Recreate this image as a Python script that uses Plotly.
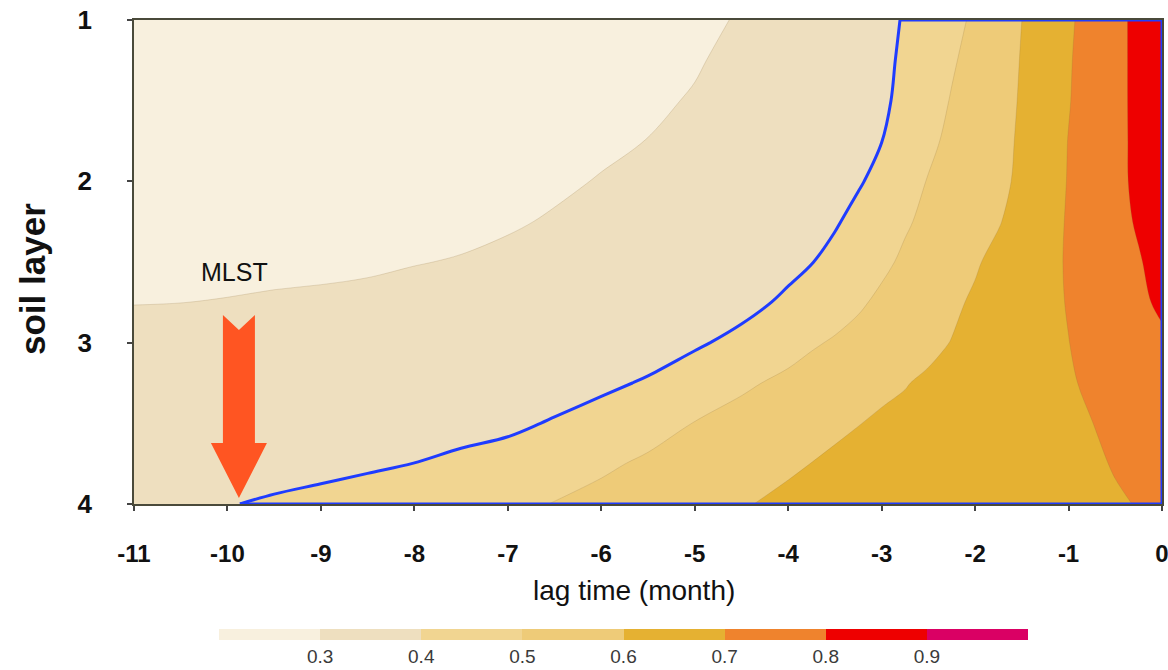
import numpy as np
import plotly.graph_objects as go

# ---------------- data ----------------
lag_months = [-11, -10.5, -10, -9.5, -9, -8.5, -8, -7.5, -7, -6.5, -6, -5.5, -5, -4.5, -4,
              -3.75, -3.5, -3.25, -3, -2.75, -2.5, -2.25, -2, -1.75, -1.5, -1.25, -1,
              -0.75, -0.5, -0.25, 0]
soil_layers = [1, 1.25, 1.5, 1.75, 2, 2.25, 2.5, 2.75, 3, 3.25, 3.5, 3.75, 4]

corr_100 = [0.200, 0.200, 0.200, 0.200, 0.200, 0.200, 0.205, 0.217, 0.229, 0.240, 0.253, 0.270, 0.286, 0.305, 0.333, 0.347,
            0.361, 0.375, 0.389, 0.403, 0.442, 0.476, 0.514, 0.557, 0.600, 0.644, 0.688, 0.732, 0.777, 0.821, 0.866]
corr_125 = [0.202, 0.203, 0.205, 0.208, 0.210, 0.213, 0.220, 0.229, 0.241, 0.253, 0.265, 0.279, 0.294, 0.318, 0.343, 0.356,
            0.368, 0.381, 0.393, 0.405, 0.453, 0.491, 0.528, 0.566, 0.604, 0.648, 0.693, 0.736, 0.778, 0.820, 0.863]
corr_150 = [0.219, 0.219, 0.222, 0.224, 0.226, 0.229, 0.236, 0.242, 0.254, 0.265, 0.277, 0.289, 0.305, 0.330, 0.353, 0.364,
            0.375, 0.387, 0.396, 0.406, 0.465, 0.505, 0.539, 0.572, 0.607, 0.652, 0.696, 0.738, 0.779, 0.819, 0.860]
corr_175 = [0.235, 0.235, 0.238, 0.240, 0.242, 0.245, 0.251, 0.257, 0.266, 0.278, 0.290, 0.301, 0.320, 0.343, 0.363, 0.373,
            0.383, 0.392, 0.3996, 0.441, 0.483, 0.518, 0.548, 0.577, 0.611, 0.656, 0.702, 0.740, 0.779, 0.818, 0.858]
corr_200 = [0.251, 0.251, 0.254, 0.256, 0.258, 0.261, 0.267, 0.272, 0.280, 0.291, 0.303, 0.318, 0.336, 0.355, 0.373, 0.382,
            0.391, 0.398, 0.406, 0.468, 0.504, 0.530, 0.556, 0.582, 0.615, 0.660, 0.704, 0.742, 0.779, 0.817, 0.855]
corr_225 = [0.267, 0.268, 0.270, 0.272, 0.274, 0.277, 0.282, 0.287, 0.294, 0.305, 0.321, 0.335, 0.351, 0.368, 0.384, 0.391,
            0.398, 0.406, 0.455, 0.491, 0.518, 0.544, 0.569, 0.595, 0.631, 0.669, 0.707, 0.741, 0.774, 0.809, 0.845]
corr_250 = [0.283, 0.284, 0.286, 0.289, 0.291, 0.293, 0.298, 0.303, 0.312, 0.324, 0.339, 0.352, 0.366, 0.380, 0.394, 0.399,
            0.406, 0.456, 0.484, 0.513, 0.538, 0.565, 0.592, 0.621, 0.649, 0.678, 0.707, 0.736, 0.765, 0.794, 0.830]
corr_275 = [0.299, 0.2997, 0.302, 0.305, 0.307, 0.311, 0.318, 0.324, 0.332, 0.344, 0.358, 0.369, 0.382, 0.393, 0.404, 0.444,
            0.469, 0.489, 0.515, 0.542, 0.564, 0.587, 0.610, 0.634, 0.657, 0.680, 0.704, 0.731, 0.757, 0.783, 0.815]
corr_300 = [0.314, 0.316, 0.321, 0.325, 0.328, 0.332, 0.338, 0.345, 0.353, 0.364, 0.376, 0.386, 0.397, 0.406, 0.472, 0.492,
            0.507, 0.525, 0.547, 0.568, 0.584, 0.602, 0.621, 0.641, 0.660, 0.680, 0.699, 0.721, 0.742, 0.764, 0.785]
corr_325 = [0.328, 0.333, 0.340, 0.344, 0.349, 0.353, 0.359, 0.366, 0.373, 0.384, 0.394, 0.403, 0.412, 0.488, 0.516, 0.530,
            0.544, 0.561, 0.580, 0.597, 0.610, 0.624, 0.638, 0.652, 0.666, 0.679, 0.693, 0.711, 0.731, 0.752, 0.772]
corr_350 = [0.342, 0.350, 0.359, 0.364, 0.369, 0.374, 0.380, 0.387, 0.393, 0.403, 0.412, 0.467, 0.503, 0.526, 0.551, 0.566,
            0.581, 0.5985, 0.613, 0.615, 0.628, 0.638, 0.648, 0.659, 0.669, 0.679, 0.689, 0.699, 0.718, 0.739, 0.760]
corr_375 = [0.356, 0.366, 0.377, 0.366, 0.374, 0.387, 0.4005, 0.408, 0.414, 0.456, 0.486, 0.513, 0.536, 0.559, 0.585, 0.601,
            0.617, 0.613, 0.619, 0.626, 0.639, 0.647, 0.655, 0.662, 0.670, 0.678, 0.686, 0.693, 0.703, 0.726, 0.750]
corr_400 = [0.370, 0.383, 0.396, 0.411, 0.426, 0.441, 0.456, 0.471, 0.486, 0.502, 0.525, 0.547, 0.570, 0.592, 0.622, 0.626,
            0.629, 0.632, 0.635, 0.639, 0.646, 0.652, 0.658, 0.664, 0.670, 0.677, 0.683, 0.689, 0.695, 0.702, 0.740]

band_colors = ["#F8F0DE", "#EEDFBF", "#F1D591", "#EECB78",
               "#E5B132", "#EF832D", "#EE0000", "#DA0064"]
cbar_ticks = [0.3, 0.4, 0.5, 0.6, 0.7, 0.8, 0.9]
cbar_min, cbar_max = 0.2, 1.0
mlst_level = 0.4

x_ticks = list(range(-11, 1))
y_ticks = [1, 2, 3, 4]

# ---------------- build ----------------
Z = np.array([corr_100, corr_125, corr_150, corr_175, corr_200, corr_225, corr_250,
              corr_275, corr_300, corr_325, corr_350, corr_375, corr_400])
X = np.array(lag_months, dtype=float)

n = len(band_colors)
colorscale = []
for i, c in enumerate(band_colors):
    colorscale.append([i / n, c])
    colorscale.append([(i + 1) / n, c])

FONT = "Liberation Sans, Arial, sans-serif"
BLUE = "#1f3cff"

fig = go.Figure()

# invisible trace that only carries the discrete colour bar
fig.add_trace(go.Heatmap(
    z=[[cbar_min, cbar_max]], x=[-11, 0], y=[1, 1],
    zmin=cbar_min, zmax=cbar_max, colorscale=colorscale, opacity=0,
    hoverinfo="skip",
    colorbar=dict(
        orientation="h", x=(219 - 134) / 1028, xanchor="left",
        y=(504 - 629) / 484, yanchor="top",
        len=809, lenmode="pixels", thickness=11, thicknessmode="pixels",
        outlinewidth=0, xpad=0, ypad=0,
        tickvals=cbar_ticks, ticktext=[f"{v:.1f}" for v in cbar_ticks],
        ticks="", ticklen=0,
        tickfont=dict(family=FONT, size=19, color="#3a3a3a"),
    ),
))

fig.add_trace(go.Contour(
    x=X, y=soil_layers, z=Z,
    colorscale=colorscale, showscale=False,
    contours=dict(start=0.3, end=0.9, size=0.1, coloring="fill", showlines=True),
    line=dict(width=0.8, color="rgba(140,110,60,0.25)", smoothing=1.0),
    hoverinfo="skip",
))

fig.add_trace(go.Contour(
    x=X, y=soil_layers, z=Z, showscale=False,
    contours=dict(start=mlst_level, end=mlst_level, size=0.1, coloring="none"),
    line=dict(width=3, color=BLUE, smoothing=1.0),
    hoverinfo="skip",
))

# outline of the region >= 0.4 along the frame
x_top = float(np.interp(mlst_level, Z[0], X))
x_bot = float(np.interp(mlst_level, Z[-1], X))
fig.add_trace(go.Scatter(
    x=[x_top, X[-1], X[-1], x_bot],
    y=[soil_layers[0], soil_layers[0], soil_layers[-1], soil_layers[-1]],
    mode="lines", line=dict(color=BLUE, width=3), cliponaxis=False,
    hoverinfo="skip", showlegend=False,
))

# MLST arrow (pixel-sized, anchored at the MLST point)
fig.add_shape(
    type="path", xref="x", yref="y",
    xsizemode="pixel", ysizemode="pixel", xanchor=x_bot, yanchor=soil_layers[-1],
    path="M -1,6 L -29,61 L -17,61 L -17,189 L -1,174 L 15,189 L 15,61 L 27,61 Z",
    fillcolor="#FF5522", line=dict(width=0),
)
fig.add_annotation(
    x=x_bot, y=soil_layers[-1], xref="x", yref="y", text="MLST", showarrow=False,
    xshift=-5, yshift=232, font=dict(family=FONT, size=25, color="#111111"),
)

# axis titles (placed as in the reference)
fig.add_annotation(
    x=(634 - 134) / 1028, y=(504 - 590) / 484, xref="paper", yref="paper",
    text="lag time (month)", showarrow=False, xanchor="center", yanchor="middle",
    font=dict(family=FONT, size=28, color="#111111"),
)
fig.add_annotation(
    x=(32 - 134) / 1028, y=(504 - 279) / 484, xref="paper", yref="paper",
    text="<b>soil layer</b>", showarrow=False, textangle=-90,
    xanchor="center", yanchor="middle",
    font=dict(family=FONT, size=35, color="#111111"),
)

fig.update_layout(
    width=1168, height=670,
    margin=dict(l=134, r=6, t=20, b=166, autoexpand=False),
    paper_bgcolor="white", plot_bgcolor="white",
    showlegend=False,
    font=dict(family=FONT),
)
fig.update_xaxes(
    range=[-11, 0], tickvals=x_ticks, ticktext=[str(v) for v in x_ticks],
    ticks="outside", ticklen=5, tickwidth=1.5, tickcolor="#444444",
    ticklabelstandoff=22, ticklabeloverflow="allow",
    tickfont=dict(family=FONT, size=24, color="#111111", weight="bold"),
    showline=True, mirror=True, linecolor="#4a4a3a", linewidth=1.5,
    showgrid=False, zeroline=False, layer="below traces",
)
fig.update_yaxes(
    range=[4, 1], tickvals=y_ticks, ticktext=[str(v) for v in y_ticks],
    ticks="outside", ticklen=5, tickwidth=1.5, tickcolor="#444444",
    ticklabelstandoff=30,
    tickfont=dict(family=FONT, size=26, color="#111111", weight="bold"),
    showline=True, mirror=True, linecolor="#4a4a3a", linewidth=1.5,
    showgrid=False, zeroline=False, layer="below traces",
)

fig.write_html("out.html")
